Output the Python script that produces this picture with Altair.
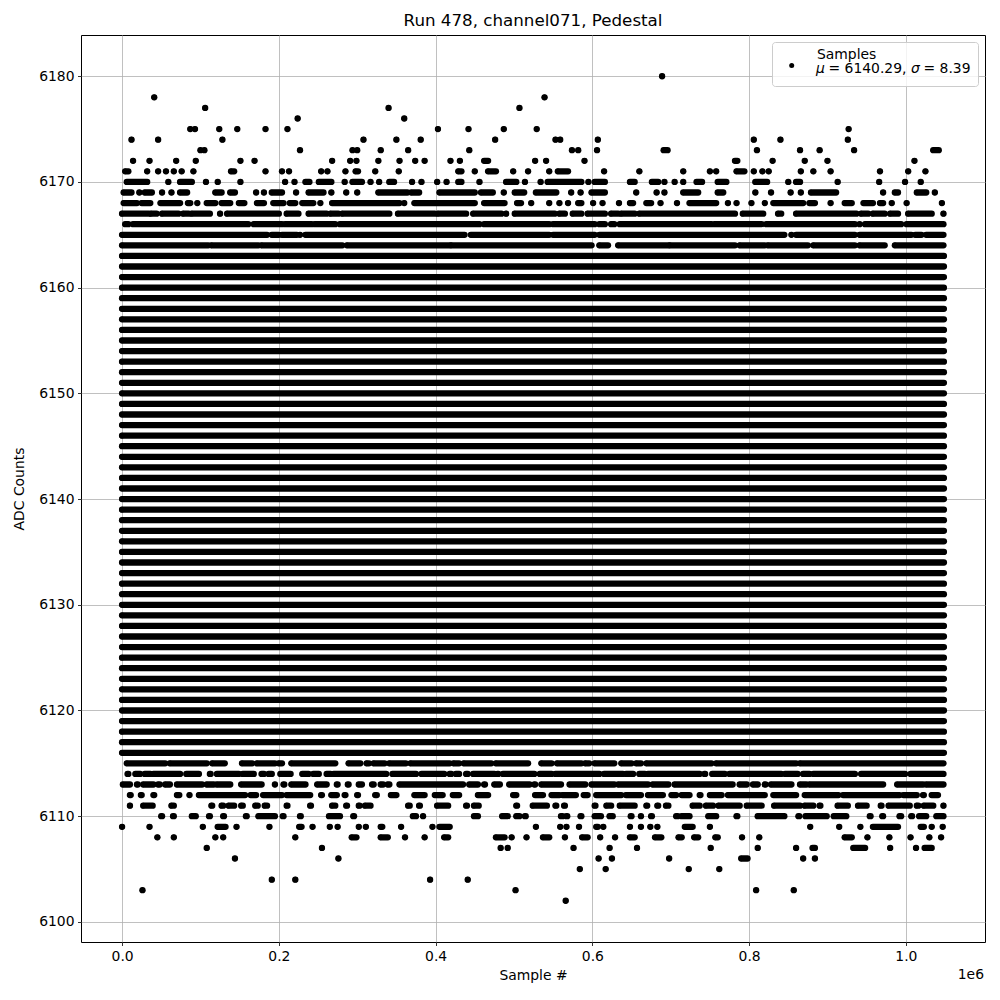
import altair as alt
import pandas as pd

TITLE = "Run 478, channel071, Pedestal"
X_LABEL = "Sample #"
Y_LABEL = "ADC Counts"
LEGEND_NAME = "Samples"
MEAN_TEXT = "= 6140.29,"
SIGMA_TEXT = "= 8.39"

N_SAMPLES = 1048576
X_TICKS = [0, 200000, 400000, 600000, 800000, 1000000]
Y_TICKS = [6100, 6110, 6120, 6130, 6140, 6150, 6160, 6170, 6180]

# ADC levels that are hit throughout the whole run (continuous bands)
SOLID_LEVELS = [6116, 6117, 6118, 6119, 6120, 6121, 6122, 6123, 6124, 6125,
                6126, 6127, 6128, 6129, 6130, 6131, 6132, 6133, 6134, 6135,
                6136, 6137, 6138, 6139, 6140, 6141, 6142, 6143, 6144, 6145,
                6146, 6147, 6148, 6149, 6150, 6151, 6152, 6153, 6154, 6155,
                6156, 6157, 6158, 6159, 6160, 6161, 6162, 6163]

# Sparse levels: sample positions in thousands; [a, b] = run of samples a..b
L6180 = [689]
L6178 = [41, 539]
L6177 = [106, 340, 507]
L6176 = [224, 360]
L6175 = [87, 93, 124, 147, 183, 211, 403, 442, 487, 529, 927]
L6174 = [12, 46, 128, 308, 350, 381, 476, 553, 559, 607, 806, 840, 926]
L6173 = [100, 105, 227, 294, 300, 330, 365, 443, 574, 582, 606, [691, 696],
         810, 865, 890, 934, [1035, 1042]]
L6172 = [14, 35, 69, 94, 151, 169, 268, 291, 299, 327, 354, 374, 386, 419, 431,
         [462, 467], 527, 541, 590, [782, 785], 830, 871, 900, 1011]
L6171 = [[4, 8], 32, 46, 56, 66, 76, 91, [139, 143], 183, 204, 213, 254, 262,
         285, [298, 301], 323, 353, [429, 433], 450, [467, 477], 499, 518, 545,
         [556, 569], 615, 660, 716, 750, 758, [784, 794], 806, 817, 825, 866,
         882, 904, 967, 1003, 1025]
L6170 = [[6, 32], 59, [74, 89], 107, 122, 151, 208, 220, [234, 239], [251, 267],
         284, [294, 306], 317, 328, [341, 347], 370, 382, 402, 414, [429, 433],
         456, [490, 503], 514, 534, [543, 586], 595, [603, 616], [648, 654],
         [676, 684], 692, 705, 716, [733, 740], [760, 771], [808, 823], 850,
         [860, 865], 913, 966, 999, 1019]
L6169 = [[2, 12], 22, [29, 38], 51, 63, [74, 83], [119, 127], [138, 144], 171,
         181, [191, 204], 222, [238, 257], 267, 286, 300, [327, 364], [369, 379],
         [405, 450], [458, 473], 487, [501, 513], [528, 554], 573, 585,
         [599, 616], 656, 682, 692, [716, 735], [760, 767], 808, 828, 853, 866,
         [879, 911], 971, [986, 990], [1014, 1026], 1037]
L6168 = [[2, 19], [25, 36], [49, 74], [84, 87], 96, [108, 119], [127, 138],
         [149, 156], [172, 181], [193, 206], [214, 221], [230, 244], 253,
         [268, 354], 360, [373, 450], [462, 488], [504, 509], 522, 545, 558, 569,
         [582, 586], 601, 613, 634, [648, 652], [669, 675], 687, 708, [724, 758],
         773, 784, 803, 820, [831, 869], [877, 884], 904, [922, 931], [946, 958],
         [967, 971], 982, 1001, 1046]
L6167 = [[0, 34], [37, 44], [51, 72], [78, 85], [89, 112], 125, [134, 200],
         [210, 225], [238, 261], [266, 276], [281, 341], [352, 399], [403, 439],
         [448, 484], 490, [501, 552], [558, 565], [575, 586], [594, 616],
         [624, 633], [637, 654], [660, 782], [792, 818], [837, 841], [860, 937],
         [943, 952], [958, 973], [980, 990], [1003, 1033], 1048]
L6166 = [[4, 8], [14, 161], [168, 204], [208, 242], [246, 272], [278, 456],
         [462, 545], [550, 603], [609, 616], [624, 628], [635, 752], [756, 816],
         [822, 935], 941, [948, 994], [1001, 1048]]
L6165 = [[0, 185], [191, 200], [204, 223], 227, [234, 437], [445, 545],
         [550, 603], [609, 845], 854, [860, 935], [941, 1007], [1012, 1020],
         [1026, 1048]]
L6164 = [[0, 110], [114, 174], [178, 281], [287, 418], [420, 599], [609, 620],
         [633, 697], [699, 782], [788, 820], [824, 875], [882, 935], [941, 973],
         [986, 1048]]

L6115 = [[6, 55], [61, 108], [115, 131], [153, 166], [172, 195], [200, 204],
         [216, 272], [289, 304], [312, 315], [321, 335], [341, 362], [368, 418],
         [423, 430], [436, 471], [477, 518], [535, 548], [555, 586], [591, 596],
         [603, 628], [637, 650], [656, 662], [669, 752], [758, 860], [865, 1048]]
L6114 = [[7, 8], [17, 23], [29, 36], [40, 74], [82, 98], [112, 113], [121, 149],
         [154, 168], [178, 181], [187, 191], [202, 215], [230, 238], [244, 251],
         [261, 266], [270, 337], [345, 375], [382, 411], [418, 420], [426, 430],
         [439, 441], [448, 475], [479, 480], [486, 526], [533, 548], [553, 609],
         [615, 639], [643, 652], [660, 667], [671, 737], [743, 744], [753, 769],
         [775, 841], [846, 862], [869, 877], [882, 935], [943, 999], [1006, 1048]]
L6113 = [[1, 10], [19, 20], [27, 40], [46, 48], [55, 61], [70, 102], [108, 117],
         [121, 138], [152, 178], 195, [206, 207], [216, 234], [249, 261],
         [274, 275], [288, 289], [302, 306], [319, 321], [330, 333], [339, 341],
         [354, 435], [443, 454], [462, 463], [475, 482], [494, 520], [526, 527],
         [535, 560], [571, 591], [599, 628], [633, 671], [677, 697], [705, 779],
         [788, 797], [805, 811], [820, 821], [828, 854], [865, 873], [877, 971],
         [989, 1022], [1026, 1048]]
L6112 = [[10, 11], [24, 25], [40, 41], [70, 73], 86, [98, 157], [164, 171],
         [180, 204], [210, 240], [254, 255], [267, 274], [284, 285], [300, 301],
         [323, 325], [343, 350], [373, 386], [399, 409], [422, 430], [454, 467],
         [499, 503], [527, 537], [548, 558], [562, 579], [589, 594], [605, 637],
         [643, 662], [671, 690], [701, 707], [714, 724], [737, 738], [750, 765],
         [773, 820], [831, 860], [871, 914], [920, 992], [997, 1014],
         [1022, 1023], [1033, 1041]]
L6111 = [10, [27, 39], [63, 66], [114, 115], [127, 129], [136, 143], [152, 154],
         [170, 173], [182, 185], [210, 211], [240, 241], [268, 272], [286, 287],
         [302, 303], [310, 317], [365, 367], [379, 380], [402, 416], [439, 440],
         [449, 455], [503, 504], [524, 542], [553, 554], [564, 565], [603, 604],
         [618, 624], [635, 654], [669, 670], [683, 684], [694, 697], [728, 737],
         [745, 754], [761, 788], [797, 816], [832, 865], [871, 882], [890, 891],
         [913, 926], [939, 950], [968, 969], [978, 1005], [1014, 1016],
         [1023, 1035], 1048]
L6110 = [[50, 51], [65, 66], [89, 94], [111, 112], [129, 130], [158, 159],
         [174, 195], [205, 206], [227, 228], [264, 278], [295, 296], [371, 375],
         384, [449, 454], [485, 492], [503, 507], [514, 515], [560, 562],
         [567, 568], [585, 586], [603, 611], [622, 626], [649, 650], 662,
         [675, 676], [707, 709], [714, 724], [748, 758], [784, 785], [811, 845],
         [863, 864], [872, 899], [908, 924], [954, 955], [970, 971], [992, 994],
         [1007, 1008], [1017, 1026], [1039, 1048]]
L6109 = [0, 35, 103, [122, 132], 146, 188, [226, 229], 243, 265, 275, 302, 311,
         [330, 332], 356, 396, [405, 418], 528, 559, 567, 583, [605, 607], 614,
         648, 662, 674, 683, [718, 728], 750, 878, 915, 942, [958, 990],
         [1019, 1023], 1033, 1047]
L6108 = [45, 66, 119, 129, 221, [293, 299], [330, 339], 361, 386, [411, 416],
         [477, 488], 497, 516, [537, 545], 565, [587, 594], 610, 629, [648, 654],
         [680, 688], [710, 714], [730, 735], [757, 760], 791, 813, [922, 931],
         951, 979, 1006, 1030, 1045]
L6107 = [108, 255, 483, 492, 576, 622, 657, 751, 811, 860, [881, 884],
         [933, 948], 980, 1013, [1024, 1033]]
L6106 = [144, 276, 608, 625, 698, [790, 798], 869, 884]
L6105 = [584, 617, 723, 762]
L6104 = [191, 221, 393, 441]
L6103 = [26, 502, 809, 857]
L6102 = [566]

SPARSE = [(6180, L6180), (6178, L6178), (6177, L6177), (6176, L6176),
          (6175, L6175), (6174, L6174), (6173, L6173), (6172, L6172),
          (6171, L6171), (6170, L6170), (6169, L6169), (6168, L6168),
          (6167, L6167), (6166, L6166), (6165, L6165), (6164, L6164),
          (6115, L6115), (6114, L6114), (6113, L6113), (6112, L6112),
          (6111, L6111), (6110, L6110), (6109, L6109), (6108, L6108),
          (6107, L6107), (6106, L6106), (6105, L6105), (6104, L6104),
          (6103, L6103), (6102, L6102)]

rows = []
for lvl in SOLID_LEVELS:
    rows.append({"x": 0, "x2": N_SAMPLES - 1, "y": lvl})
for lvl, items in SPARSE:
    for it in items:
        if isinstance(it, list):
            a, b = it
        else:
            a, b = it, it
        rows.append({"x": a * 1000, "x2": b * 1000, "y": lvl})
df = pd.DataFrame(rows)

FONT = "DejaVu Sans"
FS = 13.9

x_enc = alt.X("x:Q", title=X_LABEL,
              scale=alt.Scale(domain=[-52429, 1101004], nice=False, zero=False),
              axis=alt.Axis(values=X_TICKS,
                            labelExpr="format(datum.value / 1000000, '.1f')",
                            titlePadding=6))
y_enc = alt.Y("y:Q", title=Y_LABEL,
              scale=alt.Scale(domain=[6098.1, 6183.9], nice=False, zero=False),
              axis=alt.Axis(values=Y_TICKS, format="d", titlePadding=12))

base = alt.Chart(df)
runs = base.mark_rule(color="black", strokeWidth=6.3, strokeCap="round").encode(
    x=x_enc, x2="x2:Q", y=y_enc)
dots = base.mark_circle(color="black", size=31, opacity=1).encode(
    x=alt.X("x:Q"), y=alt.Y("y:Q"))

one = pd.DataFrame({"a": [0]})


def legend_text(txt, x, y, italic=False):
    kw = dict(align="left", baseline="middle", font=FONT, fontSize=FS,
              color="black", text=txt)
    if italic:
        kw["fontStyle"] = "italic"
    return alt.Chart(one).mark_text(**kw).encode(x=alt.value(x), y=alt.value(y))


leg_box = alt.Chart(one).mark_rect(fill="white", fillOpacity=0.8, stroke="#cccccc",
                                   strokeWidth=1, cornerRadius=3).encode(
    x=alt.value(691.5), x2=alt.value(897.5), y=alt.value(7.5), y2=alt.value(51.5))
leg_dot = alt.Chart(one).mark_circle(color="black", size=25, opacity=1).encode(
    x=alt.value(710.7), y=alt.value(30.5))
leg_t1 = legend_text(LEGEND_NAME, 736, 20)
leg_mu = legend_text("μ", 735, 34, italic=True)
leg_mv = legend_text(MEAN_TEXT, 747.5, 34)
leg_sg = legend_text("σ", 830, 34, italic=True)
leg_sv = legend_text(SIGMA_TEXT, 842.5, 34)
offset_txt = alt.Chart(one).mark_text(align="right", baseline="middle", font=FONT,
                                      fontSize=FS, color="black", text="1e6").encode(
    x=alt.value(903), y=alt.value(940))

chart = alt.layer(runs, dots, leg_box, leg_dot, leg_t1, leg_mu, leg_mv, leg_sg,
                  leg_sv, offset_txt).properties(
    width=904, height=907,
    title=alt.TitleParams(TITLE, fontSize=16.7, fontWeight="normal", font=FONT,
                          color="black", offset=5),
    padding={"left": 73, "top": 27, "right": 6, "bottom": 44},
    autosize=alt.AutoSizeParams(type="none"),
).configure_view(
    stroke="black", strokeWidth=1
).configure_axis(
    labelFont=FONT, titleFont=FONT, labelFontSize=FS, titleFontSize=FS,
    labelColor="black", titleColor="black", titleFontWeight="normal",
    tickColor="black", tickSize=3.5, tickWidth=0.8, labelPadding=3.5,
    domain=False, grid=True, gridColor="#b0b0b0", gridWidth=0.8,
    labelFlush=False, labelOverlap=False
)

chart.save("out.html", embed_options={"renderer": "svg", "actions": False})
